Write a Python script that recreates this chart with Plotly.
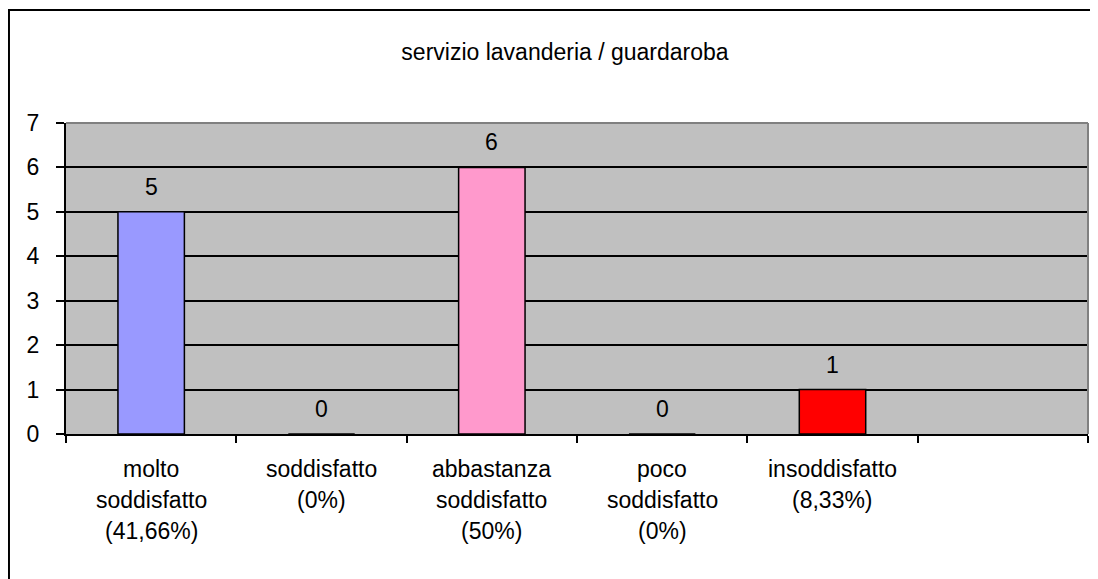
import plotly.graph_objects as go

# ---------------------------------------------------------------------------
# data
# ---------------------------------------------------------------------------
categories = ["molto soddisfatto", "soddisfatto", "abbastanza soddisfatto",
              "poco soddisfatto", "insoddisfatto", "vuoto"]
label_lines = [
    ["molto", "soddisfatto", "(41,66%)"],
    ["soddisfatto", "(0%)"],
    ["abbastanza", "soddisfatto", "(50%)"],
    ["poco", "soddisfatto", "(0%)"],
    ["insoddisfatto", "(8,33%)"],
    [],
]
values = [5, 0, 6, 0, 1, None]
bar_colors = ["#9999FF", "#9999FF", "#FF99CC", "#FF99CC", "#FF0000", "#FF0000"]
y_ticks = [0, 1, 2, 3, 4, 5, 6, 7]
title_text = "servizio lavanderia / guardaroba"

FONT = "Liberation Sans, Arial, sans-serif"
FSIZE = 23

# the page body adds an 8px margin, so the figure is sized to fit the window
W, H = 1090, 571

fig = go.Figure()

fig.add_trace(go.Bar(
    x=categories,
    y=values,
    width=0.39,
    marker=dict(color=bar_colors, line=dict(color="black", width=1.5)),
    hoverinfo="x+y",
    showlegend=False,
))

annotations = []
# value labels above bars
for cat, v in zip(categories, values):
    if v is None:
        continue
    annotations.append(dict(
        x=cat, y=v, xref="x", yref="y", text=str(v), showarrow=False,
        yshift=25, yanchor="middle",
        font=dict(size=FSIZE, color="black", family=FONT),
    ))
# category labels, one annotation per line
for cat, lines in zip(categories, label_lines):
    for i, line in enumerate(lines):
        annotations.append(dict(
            x=cat, y=0, xref="x", yref="y", text=line, showarrow=False,
            yshift=-(35 + 31 * i), yanchor="middle",
            font=dict(size=FSIZE, color="black", family=FONT),
        ))

shapes = [
    # outer chart border (right and bottom edges run off the picture)
    dict(type="rect", xref="paper", yref="paper",
         x0=-0.0558, x1=1.03, y0=-0.6, y1=1.363,
         line=dict(color="black", width=2), layer="below"),
    # grey top and right edges of the plot area
    dict(type="line", xref="paper", yref="paper", x0=0, x1=1, y0=1, y1=1,
         line=dict(color="#808080", width=2), layer="above"),
    dict(type="line", xref="paper", yref="paper", x0=1, x1=1, y0=0, y1=1,
         line=dict(color="#808080", width=2), layer="above"),
]

fig.update_layout(
    width=W,
    height=H,
    margin=dict(l=58, r=10, t=115, b=145),
    paper_bgcolor="white",
    plot_bgcolor="#C0C0C0",
    font=dict(family=FONT, size=FSIZE, color="black"),
    title=dict(text=title_text, x=557 / W, xanchor="center",
               y=1 - 44 / H, yanchor="middle",
               font=dict(size=FSIZE, color="black", family=FONT)),
    annotations=annotations,
    shapes=shapes,
    xaxis=dict(
        type="category",
        categoryorder="array",
        categoryarray=categories,
        range=[-0.5, 5.5],
        showticklabels=False,
        showgrid=False,
        tickson="boundaries",
        ticks="outside",
        ticklen=7,
        tickwidth=2,
        tickcolor="black",
        showline=True,
        linecolor="black",
        linewidth=2,
        fixedrange=True,
    ),
    yaxis=dict(
        range=[0, 7],
        tickvals=y_ticks,
        ticks="outside",
        ticklen=8,
        tickwidth=2,
        tickcolor="black",
        ticklabelstandoff=12,
        showline=True,
        linecolor="black",
        linewidth=2,
        showgrid=True,
        gridcolor="black",
        gridwidth=1.5,
        zeroline=False,
        tickfont=dict(size=FSIZE, color="black", family=FONT),
        fixedrange=True,
    ),
)

fig.write_html("out.html")
